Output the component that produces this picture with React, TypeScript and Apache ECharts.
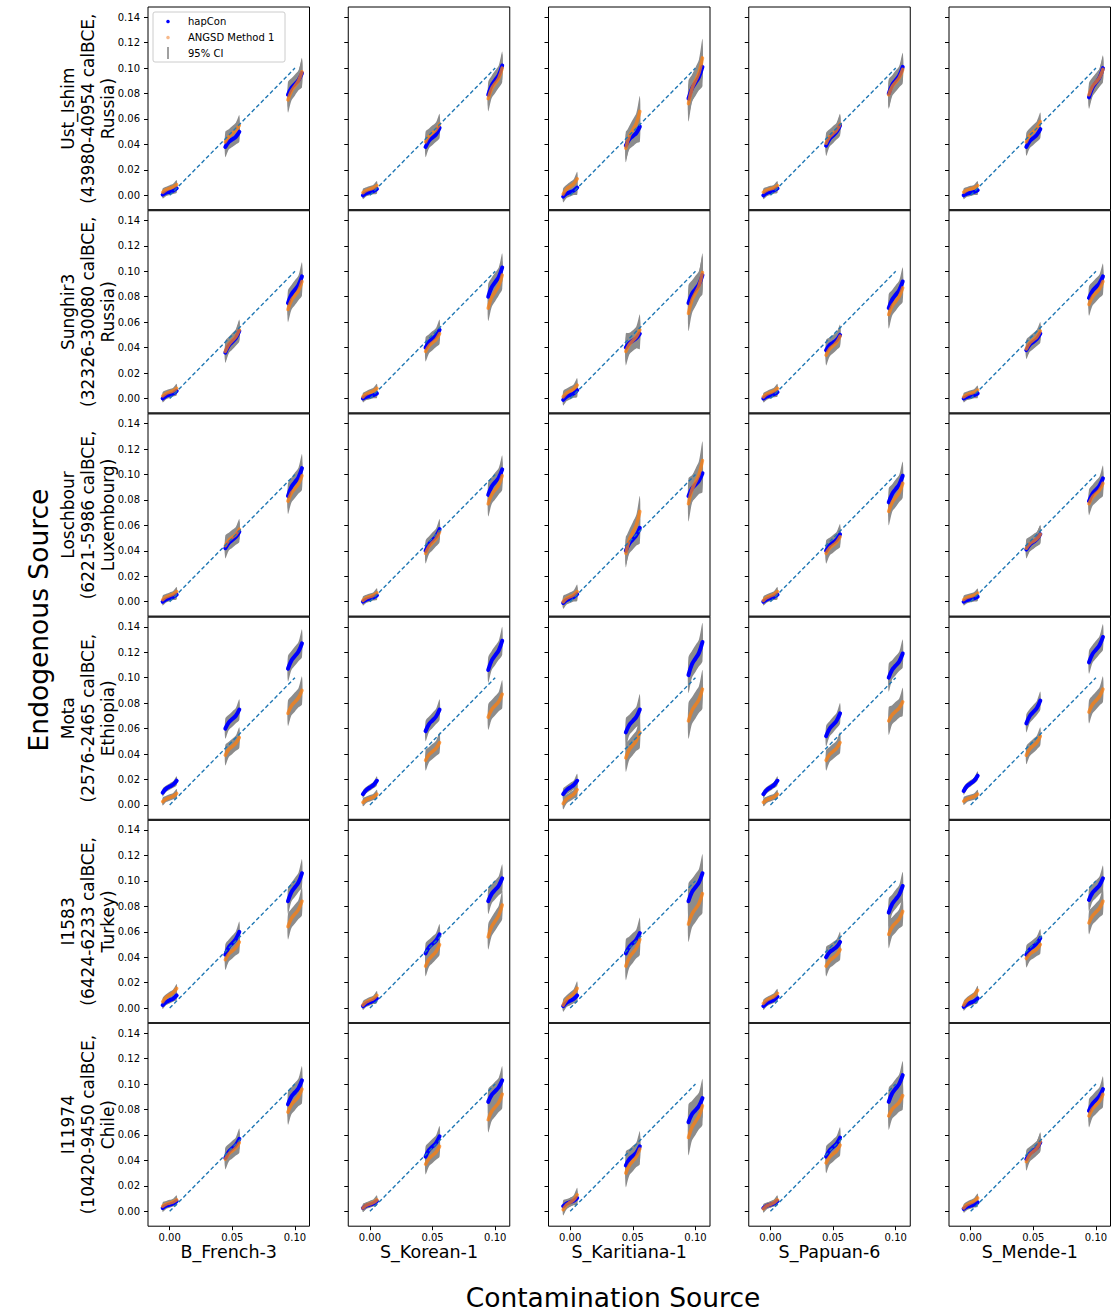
import React, { useEffect, useRef } from "react";
import * as echarts from "echarts";

// ---------- data ----------
const contaminationSources = ["B_French-3", "S_Korean-1", "S_Karitiana-1", "S_Papuan-6", "S_Mende-1"];
const endogenousLabels = [
  ["Ust_Ishim", "(43980-40954 calBCE,", "Russia)"],
  ["Sunghir3", "(32326-30080 calBCE,", "Russia)"],
  ["Loschbour", "(6221-5986 calBCE,", "Luxembourg)"],
  ["Mota", "(2576-2465 calBCE,", "Ethiopia)"],
  ["I1583", "(6424-6233 calBCE,", "Turkey)"],
  ["I11974", "(10420-9450 calBCE,", "Chile)"],
];
const trueContamination = [0, 0.05, 0.1];
// x offsets of the sorted replicates (min, q1, median, q3, max) around each true value
const replicateOffsets = [-0.0056, -0.0028, 0, 0.0028, 0.0056];
const xTickValues = [0, 0.05, 0.1];
const yTickValues = [0, 0.02, 0.04, 0.06, 0.08, 0.1, 0.12, 0.14];

// estimates per panel: [column][true value][min, q1, median, q3, max]
const hapConUstIshim = [
  [[0.0005, 0.002, 0.0028, 0.0036, 0.0055], [0.038, 0.042, 0.044, 0.046, 0.05], [0.079, 0.0845, 0.0875, 0.0905, 0.096]],
  [[0, 0.0017, 0.0025, 0.0033, 0.005], [0.038, 0.043, 0.0455, 0.048, 0.053], [0.079, 0.0865, 0.0905, 0.0945, 0.102]],
  [[-0.001, 0.0013, 0.0025, 0.0037, 0.006], [0.039, 0.044, 0.0465, 0.049, 0.054], [0.076, 0.084, 0.0885, 0.093, 0.101]],
  [[0, 0.0018, 0.0028, 0.0038, 0.0055], [0.039, 0.0442, 0.047, 0.0498, 0.055], [0.08, 0.0868, 0.0905, 0.0942, 0.101]],
  [[0, 0.0013, 0.002, 0.0027, 0.004], [0.038, 0.0426, 0.045, 0.0475, 0.052], [0.077, 0.0845, 0.0885, 0.0925, 0.1]],
];
const angsdUstIshim = [
  [[0.0024, 0.0043, 0.0054, 0.0065, 0.0084], [0.042, 0.046, 0.0485, 0.051, 0.055], [0.075, 0.082, 0.086, 0.09, 0.097]],
  [[0.002, 0.0038, 0.0048, 0.0058, 0.0076], [0.042, 0.0465, 0.049, 0.0515, 0.056], [0.076, 0.084, 0.088, 0.092, 0.1]],
  [[0.001, 0.0049, 0.007, 0.0091, 0.013], [0.037, 0.0464, 0.0515, 0.0566, 0.066], [0.072, 0.0837, 0.09, 0.0963, 0.108]],
  [[0.0024, 0.0041, 0.005, 0.0059, 0.0076], [0.041, 0.0459, 0.0485, 0.0511, 0.056], [0.079, 0.0855, 0.089, 0.0925, 0.099]],
  [[0.0024, 0.0041, 0.005, 0.0059, 0.0076], [0.042, 0.0472, 0.05, 0.0528, 0.058], [0.079, 0.0855, 0.089, 0.0925, 0.099]],
];
const hapConSunghir3 = [
  [[0, 0.002, 0.003, 0.004, 0.006], [0.036, 0.0415, 0.0445, 0.0475, 0.053], [0.075, 0.0818, 0.0855, 0.0892, 0.096]],
  [[0, 0.0013, 0.002, 0.0027, 0.004], [0.04, 0.0445, 0.047, 0.0495, 0.054], [0.08, 0.0875, 0.0915, 0.0955, 0.103]],
  [[-0.001, 0.0015, 0.0028, 0.0041, 0.0066], [0.04, 0.0436, 0.0455, 0.0474, 0.051], [0.075, 0.0822, 0.086, 0.0898, 0.097]],
  [[0, 0.0016, 0.0025, 0.0034, 0.005], [0.038, 0.0419, 0.044, 0.0461, 0.05], [0.071, 0.0778, 0.0815, 0.0852, 0.092]],
  [[0, 0.0013, 0.002, 0.0027, 0.004], [0.038, 0.0422, 0.0445, 0.0468, 0.051], [0.079, 0.0845, 0.0875, 0.0905, 0.096]],
];
const angsdSunghir3 = [
  [[0.002, 0.004, 0.005, 0.006, 0.008], [0.037, 0.0425, 0.0455, 0.0485, 0.054], [0.07, 0.0772, 0.081, 0.0848, 0.092]],
  [[0.0013, 0.0035, 0.0047, 0.0059, 0.008], [0.037, 0.0415, 0.044, 0.0465, 0.051], [0.071, 0.0795, 0.084, 0.0885, 0.097]],
  [[0.0013, 0.0043, 0.0059, 0.0075, 0.0105], [0.037, 0.0425, 0.0455, 0.0485, 0.054], [0.067, 0.0774, 0.083, 0.0886, 0.099]],
  [[0.0013, 0.0035, 0.0047, 0.0059, 0.008], [0.034, 0.0389, 0.0415, 0.0441, 0.049], [0.066, 0.0728, 0.0765, 0.0802, 0.087]],
  [[0.0013, 0.0031, 0.004, 0.0049, 0.0066], [0.039, 0.0436, 0.046, 0.0485, 0.053], [0.074, 0.0799, 0.083, 0.0862, 0.092]],
];
const hapConLoschbour = [
  [[0, 0.0018, 0.0028, 0.0038, 0.0055], [0.042, 0.0462, 0.0485, 0.0508, 0.055], [0.083, 0.0902, 0.094, 0.0978, 0.105]],
  [[0, 0.0016, 0.0025, 0.0034, 0.005], [0.04, 0.0455, 0.0485, 0.0515, 0.057], [0.084, 0.0905, 0.094, 0.0975, 0.104]],
  [[-0.001, 0.0013, 0.0025, 0.0037, 0.006], [0.04, 0.0458, 0.049, 0.0522, 0.058], [0.083, 0.0889, 0.092, 0.0952, 0.101]],
  [[0, 0.0018, 0.0028, 0.0038, 0.0055], [0.04, 0.0442, 0.0465, 0.0488, 0.053], [0.078, 0.0848, 0.0885, 0.0922, 0.099]],
  [[0, 0.0013, 0.002, 0.0027, 0.004], [0.041, 0.0449, 0.047, 0.0491, 0.053], [0.079, 0.0848, 0.088, 0.0912, 0.097]],
];
const angsdLoschbour = [
  [[0.0016, 0.0037, 0.0048, 0.0059, 0.008], [0.044, 0.0482, 0.0505, 0.0528, 0.057], [0.079, 0.0855, 0.089, 0.0925, 0.099]],
  [[0.001, 0.003, 0.004, 0.005, 0.007], [0.038, 0.0435, 0.0465, 0.0495, 0.055], [0.077, 0.0842, 0.088, 0.0918, 0.099]],
  [[0, 0.0026, 0.004, 0.0054, 0.008], [0.038, 0.0487, 0.0545, 0.0603, 0.071], [0.077, 0.088, 0.094, 0.1, 0.111]],
  [[0.001, 0.0033, 0.0045, 0.0057, 0.008], [0.038, 0.0422, 0.0445, 0.0468, 0.051], [0.071, 0.0782, 0.082, 0.0858, 0.093]],
  [[0.0016, 0.0033, 0.0042, 0.0051, 0.0068], [0.042, 0.0456, 0.0475, 0.0494, 0.053], [0.077, 0.0822, 0.085, 0.0878, 0.093]],
];
const hapConMota = [
  [[0.0097, 0.0128, 0.0144, 0.016, 0.019], [0.06, 0.0649, 0.0675, 0.0701, 0.075], [0.107, 0.1135, 0.117, 0.1205, 0.127]],
  [[0.0084, 0.0118, 0.0137, 0.0156, 0.019], [0.058, 0.0635, 0.0665, 0.0695, 0.075], [0.106, 0.1135, 0.1175, 0.1215, 0.129]],
  [[0.0084, 0.0118, 0.0137, 0.0156, 0.019], [0.057, 0.0628, 0.066, 0.0692, 0.075], [0.102, 0.1105, 0.115, 0.1195, 0.128]],
  [[0.0084, 0.0118, 0.0137, 0.0156, 0.019], [0.054, 0.0598, 0.063, 0.0662, 0.072], [0.1, 0.1062, 0.1095, 0.1128, 0.119]],
  [[0.011, 0.0149, 0.017, 0.0191, 0.023], [0.064, 0.0699, 0.073, 0.0762, 0.082], [0.112, 0.1185, 0.122, 0.1255, 0.132]],
];
const angsdMota = [
  [[0.0026, 0.0047, 0.0058, 0.0069, 0.009], [0.039, 0.0436, 0.046, 0.0485, 0.053], [0.072, 0.0779, 0.081, 0.0842, 0.09]],
  [[0.002, 0.0041, 0.0052, 0.0063, 0.0084], [0.035, 0.0396, 0.042, 0.0445, 0.049], [0.069, 0.0749, 0.078, 0.0812, 0.087]],
  [[0.001, 0.0046, 0.0065, 0.0084, 0.012], [0.037, 0.0435, 0.047, 0.0505, 0.057], [0.066, 0.0741, 0.0785, 0.0829, 0.091]],
  [[0.002, 0.0041, 0.0052, 0.0063, 0.0084], [0.035, 0.0396, 0.042, 0.0445, 0.049], [0.066, 0.0709, 0.0735, 0.0761, 0.081]],
  [[0.003, 0.0048, 0.0057, 0.0066, 0.0084], [0.039, 0.0439, 0.0465, 0.0491, 0.054], [0.073, 0.0789, 0.082, 0.0852, 0.091]],
];
const hapConI1583 = [
  [[0.0024, 0.0049, 0.0062, 0.0075, 0.01], [0.042, 0.0479, 0.051, 0.0542, 0.06], [0.084, 0.0912, 0.095, 0.0988, 0.106]],
  [[0.0016, 0.0035, 0.0046, 0.0057, 0.0076], [0.043, 0.0479, 0.0505, 0.0531, 0.058], [0.084, 0.0898, 0.093, 0.0962, 0.102]],
  [[0.0016, 0.0043, 0.0058, 0.0073, 0.01], [0.043, 0.0482, 0.051, 0.0538, 0.059], [0.084, 0.0912, 0.095, 0.0988, 0.106]],
  [[0.0016, 0.004, 0.0053, 0.0066, 0.009], [0.04, 0.0439, 0.046, 0.0481, 0.052], [0.075, 0.0818, 0.0855, 0.0892, 0.096]],
  [[0.001, 0.0031, 0.0043, 0.0055, 0.0076], [0.042, 0.0462, 0.0485, 0.0508, 0.055], [0.085, 0.0905, 0.0935, 0.0965, 0.102]],
];
const angsdI1583 = [
  [[0.005, 0.0084, 0.0103, 0.0122, 0.0155], [0.038, 0.0426, 0.045, 0.0475, 0.052], [0.064, 0.0705, 0.074, 0.0775, 0.084]],
  [[0.0024, 0.0049, 0.0062, 0.0075, 0.01], [0.033, 0.0385, 0.0415, 0.0445, 0.05], [0.056, 0.0641, 0.0685, 0.0729, 0.081]],
  [[0.0024, 0.0067, 0.009, 0.0113, 0.0155], [0.033, 0.0398, 0.0435, 0.0472, 0.054], [0.066, 0.0738, 0.078, 0.0822, 0.09]],
  [[0.0037, 0.0063, 0.0077, 0.0091, 0.0116], [0.033, 0.0372, 0.0395, 0.0418, 0.046], [0.058, 0.0639, 0.067, 0.0702, 0.076]],
  [[0.0024, 0.0062, 0.0082, 0.0102, 0.014], [0.039, 0.0426, 0.0445, 0.0464, 0.05], [0.067, 0.0725, 0.0755, 0.0785, 0.084]],
];
const hapConI11974 = [
  [[0.0026, 0.0044, 0.0053, 0.0062, 0.008], [0.042, 0.0469, 0.0495, 0.0521, 0.057], [0.084, 0.0902, 0.0935, 0.0968, 0.103]],
  [[0.0026, 0.0044, 0.0053, 0.0062, 0.008], [0.043, 0.0482, 0.051, 0.0538, 0.059], [0.086, 0.0915, 0.0945, 0.0975, 0.103]],
  [[0.004, 0.0061, 0.0072, 0.0083, 0.0105], [0.036, 0.0409, 0.0435, 0.0461, 0.051], [0.07, 0.0762, 0.0795, 0.0828, 0.089]],
  [[0.0026, 0.0044, 0.0053, 0.0062, 0.008], [0.043, 0.0479, 0.0505, 0.0531, 0.058], [0.086, 0.0928, 0.0965, 0.1002, 0.107]],
  [[0.002, 0.0036, 0.0045, 0.0054, 0.007], [0.041, 0.0452, 0.0475, 0.0498, 0.054], [0.079, 0.0845, 0.0875, 0.0905, 0.096]],
];
const angsdI11974 = [
  [[0.004, 0.0056, 0.0065, 0.0074, 0.009], [0.041, 0.0452, 0.0475, 0.0498, 0.054], [0.078, 0.0838, 0.087, 0.0902, 0.096]],
  [[0.0026, 0.0047, 0.0058, 0.0069, 0.009], [0.037, 0.0415, 0.044, 0.0465, 0.051], [0.072, 0.0785, 0.082, 0.0855, 0.092]],
  [[0.0013, 0.0051, 0.0071, 0.0091, 0.013], [0.03, 0.0362, 0.0395, 0.0428, 0.049], [0.058, 0.0661, 0.0705, 0.0749, 0.083]],
  [[0.002, 0.0043, 0.0055, 0.0067, 0.009], [0.038, 0.0426, 0.045, 0.0475, 0.052], [0.075, 0.0802, 0.083, 0.0858, 0.091]],
  [[0.0026, 0.0052, 0.0066, 0.008, 0.0105], [0.039, 0.0445, 0.047, 0.0495, 0.055], [0.075, 0.0805, 0.0835, 0.0865, 0.092]],
];

// 95% CI half widths per contamination source: [true value][min, q1, median, q3, max]
const ciHalfWidths = [
  [[0.003, 0.0025, 0.0025, 0.0025, 0.0035], [0.008, 0.006, 0.006, 0.006, 0.008], [0.01, 0.0075, 0.0075, 0.0075, 0.011]],
  [[0.003, 0.0025, 0.0025, 0.0025, 0.0035], [0.008, 0.006, 0.006, 0.006, 0.008], [0.01, 0.0075, 0.0075, 0.0075, 0.011]],
  [[0.0045, 0.0035, 0.0035, 0.0035, 0.0055], [0.011, 0.008, 0.008, 0.008, 0.012], [0.014, 0.0105, 0.0105, 0.0105, 0.015]],
  [[0.003, 0.0025, 0.0025, 0.0025, 0.0035], [0.008, 0.006, 0.006, 0.006, 0.008], [0.011, 0.0075, 0.0075, 0.0075, 0.011]],
  [[0.003, 0.0025, 0.0025, 0.0025, 0.0035], [0.007, 0.0055, 0.0055, 0.0055, 0.007], [0.009, 0.007, 0.007, 0.007, 0.01]],
];

const hapConRows = [hapConUstIshim, hapConSunghir3, hapConLoschbour, hapConMota, hapConI1583, hapConI11974];
const angsdRows = [angsdUstIshim, angsdSunghir3, angsdLoschbour, angsdMota, angsdI1583, angsdI11974];

// ---------- layout ----------
const W = 1112;
const H = 1313;
const PANEL_W = 161.5;
const PANEL_H = 203.2;
const panelLeft = (c: number) => 148 + c * 200.25;
const panelTop = (r: number) => 7 + r * PANEL_H;
const FONT = "DejaVu Sans";

function buildOption() {
  const grid: any[] = [];
  const xAxis: any[] = [];
  const yAxis: any[] = [];
  const series: any[] = [];
  const graphic: any[] = [];
  let gi = 0;
  for (let r = 0; r < 6; r++) {
    for (let c = 0; c < 5; c++) {
      grid.push({
        left: panelLeft(c),
        top: panelTop(r),
        width: PANEL_W,
        height: PANEL_H,
        show: true,
        borderColor: "#000",
        borderWidth: 1,
        backgroundColor: "transparent",
        containLabel: false,
      });
      xAxis.push({
        gridIndex: gi,
        type: "value",
        position: "bottom",
        min: -0.0173,
        max: 0.1116,
        splitLine: { show: false },
        axisLine: { show: false, onZero: false },
        axisTick: {
          show: r === 5,
          customValues: xTickValues,
          length: 4,
          lineStyle: { color: "#000", width: 1 },
        },
        axisLabel: {
          show: r === 5,
          customValues: xTickValues,
          formatter: (v: number) => v.toFixed(2),
          fontSize: 10,
          fontFamily: FONT,
          color: "#000",
          margin: 6,
        },
      });
      yAxis.push({
        gridIndex: gi,
        type: "value",
        position: "left",
        min: -0.0117,
        max: 0.148,
        splitLine: { show: false },
        axisLine: { show: false, onZero: false },
        axisTick: {
          show: true,
          customValues: yTickValues,
          length: 4,
          lineStyle: { color: "#000", width: 1 },
        },
        axisLabel: {
          show: c === 0,
          customValues: yTickValues,
          formatter: (v: number) => v.toFixed(2),
          fontSize: 10,
          fontFamily: FONT,
          color: "#000",
          margin: 8,
        },
      });

      const hap = hapConRows[r][c];
      const ang = angsdRows[r][c];
      const ci = ciHalfWidths[c];
      const bandData: number[][] = [];
      for (let m = 0; m < 2; m++) {
        for (let k = 0; k < 3; k++) {
          const curve = m === 0 ? hap[k] : ang[k];
          bandData.push([trueContamination[k], curve[2], m, k]);
        }
      }
      series.push({
        type: "custom",
        xAxisIndex: gi,
        yAxisIndex: gi,
        z: 1,
        silent: true,
        encode: { x: 0, y: 1 },
        data: bandData,
        renderItem: (params: any, api: any) => {
          const m = api.value(2);
          const k = api.value(3);
          const curve = m === 0 ? hap[k] : ang[k];
          const half = ci[k];
          const up = replicateOffsets.map((o, i) => api.coord([trueContamination[k] + o, curve[i] + half[i]]));
          const lo = replicateOffsets
            .map((o, i) => api.coord([trueContamination[k] + o, curve[i] - half[i]]))
            .reverse();
          return {
            type: "polygon",
            shape: { points: up.concat(lo), smooth: 0.3 },
            style: { fill: "#8c8c8c" },
          };
        },
      });
      for (let k = 0; k < 3; k++) {
        series.push({
          type: "line",
          name: "hapCon",
          xAxisIndex: gi,
          yAxisIndex: gi,
          z: 2,
          silent: true,
          smooth: 0.4,
          showSymbol: false,
          symbol: "none",
          lineStyle: { color: "#0000ff", width: 4, cap: "round" },
          data: hap[k].map((v, i) => [trueContamination[k] + replicateOffsets[i], v]),
        });
      }
      for (let k = 0; k < 3; k++) {
        series.push({
          type: "line",
          name: "ANGSD Method 1",
          xAxisIndex: gi,
          yAxisIndex: gi,
          z: 3,
          silent: true,
          smooth: 0.4,
          showSymbol: false,
          symbol: "none",
          lineStyle: { color: "#ff7f0e", width: 3.5, opacity: 0.75, cap: "round" },
          data: ang[k].map((v, i) => [trueContamination[k] + replicateOffsets[i], v]),
        });
      }
      series.push({
        type: "line",
        name: "expected",
        xAxisIndex: gi,
        yAxisIndex: gi,
        z: 4,
        silent: true,
        showSymbol: false,
        symbol: "none",
        lineStyle: { color: "#1f77b4", width: 1.4, type: [4, 2.5] },
        data: [
          [trueContamination[0], trueContamination[0]],
          [trueContamination[2], trueContamination[2]],
        ],
      });
      gi++;
    }
  }

  // heavier shared spines between rows
  for (let r = 1; r < 6; r++) {
    for (let c = 0; c < 5; c++) {
      graphic.push({
        type: "line",
        z: 50,
        shape: { x1: panelLeft(c), y1: panelTop(r), x2: panelLeft(c) + PANEL_W, y2: panelTop(r) },
        style: { stroke: "#222", lineWidth: 2.2 },
      });
    }
  }

  // row labels
  for (let r = 0; r < 6; r++) {
    graphic.push({
      type: "text",
      x: 88,
      y: panelTop(r) + PANEL_H / 2,
      rotation: Math.PI / 2,
      style: {
        text: endogenousLabels[r].join("\n"),
        fontSize: 17,
        fontFamily: FONT,
        fill: "#000",
        align: "center",
        verticalAlign: "middle",
        lineHeight: 20,
      },
    });
  }
  // column titles
  for (let c = 0; c < 5; c++) {
    graphic.push({
      type: "text",
      x: panelLeft(c) + PANEL_W / 2,
      y: 1252,
      style: {
        text: contaminationSources[c],
        fontSize: 17.5,
        fontFamily: FONT,
        fill: "#000",
        align: "center",
        verticalAlign: "middle",
      },
    });
  }
  graphic.push({
    type: "text",
    x: 613,
    y: 1297,
    style: {
      text: "Contamination Source",
      fontSize: 26.5,
      fontFamily: FONT,
      fill: "#000",
      align: "center",
      verticalAlign: "middle",
    },
  });
  graphic.push({
    type: "text",
    x: 38,
    y: 620,
    rotation: Math.PI / 2,
    style: {
      text: "Endogenous Source",
      fontSize: 26.5,
      fontFamily: FONT,
      fill: "#000",
      align: "center",
      verticalAlign: "middle",
    },
  });
  // legend
  graphic.push({
    type: "group",
    z: 100,
    children: [
      {
        type: "rect",
        shape: { x: 153, y: 12, width: 132, height: 50, r: 2 },
        style: { fill: "rgba(255,255,255,0.8)", stroke: "#cccccc", lineWidth: 1 },
      },
      { type: "circle", shape: { cx: 168, cy: 21.5, r: 1.8 }, style: { fill: "#0000ff" } },
      { type: "circle", shape: { cx: 168, cy: 37.5, r: 1.8 }, style: { fill: "#f7b98b" } },
      { type: "line", shape: { x1: 168, y1: 47, x2: 168, y2: 59 }, style: { stroke: "#808080", lineWidth: 1.5 } },
      { type: "text", x: 188, y: 21.5, style: { text: "hapCon", fontSize: 10, fontFamily: FONT, fill: "#000", verticalAlign: "middle" } },
      { type: "text", x: 188, y: 37.5, style: { text: "ANGSD Method 1", fontSize: 10, fontFamily: FONT, fill: "#000", verticalAlign: "middle" } },
      { type: "text", x: 188, y: 53, style: { text: "95% CI", fontSize: 10, fontFamily: FONT, fill: "#000", verticalAlign: "middle" } },
    ],
  });

  return {
    animation: false,
    backgroundColor: "#ffffff",
    grid,
    xAxis,
    yAxis,
    series,
    graphic,
  };
}

export default function App() {
  const ref = useRef<HTMLDivElement>(null);
  useEffect(() => {
    document.body.style.margin = "0";
    if (!ref.current) return;
    const chart = echarts.init(ref.current, null, { renderer: "svg", width: W, height: H });
    chart.setOption(buildOption() as any);
    return () => chart.dispose();
  }, []);
  return <div ref={ref} style={{ width: W, height: H }} />;
}
